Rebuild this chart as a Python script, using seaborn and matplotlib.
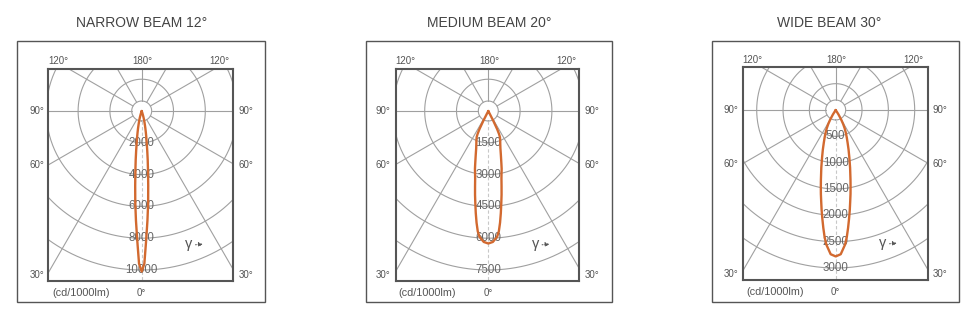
import numpy as np
import matplotlib
matplotlib.use("Agg")
import matplotlib.pyplot as plt
from matplotlib.patches import Rectangle
import seaborn as sns

# ---------------- data ----------------
titles = ["NARROW BEAM 12°", "MEDIUM BEAM 20°", "WIDE BEAM 30°"]

ring_steps = [2000, 1500, 500]
ring_counts = [5, 5, 6]

narrow_angles = [0, 1, 2, 3, 4, 5, 6, 7, 8, 9, 10, 11, 12, 13, 14, 15, 16, 17, 18, 19]
narrow_cd = [10100, 9600, 8100, 6900, 5800, 4700, 3800, 3100, 2500, 2000,
             1650, 1350, 1100, 880, 700, 550, 400, 250, 120, 0]

medium_angles = [0, 2, 4, 5, 6, 7, 8, 9, 10, 11, 12, 13, 14, 16, 18, 20, 22, 24, 25, 26, 27, 28]
medium_cd = [6250, 6180, 5950, 5700, 5300, 4850, 4400, 4000, 3600, 3250, 3000,
             2800, 2550, 2150, 1850, 1650, 1500, 1350, 1200, 950, 500, 0]

wide_angles = [0, 2, 4, 5, 6, 7, 8, 9, 10, 11, 12, 14, 16, 18, 20, 22, 24, 26, 28, 30, 32, 34]
wide_cd = [2780, 2740, 2560, 2420, 2250, 2080, 1920, 1760, 1620, 1480, 1350,
           1130, 940, 790, 660, 560, 470, 390, 300, 200, 100, 0]

profiles = [(narrow_angles, narrow_cd), (medium_angles, medium_cd), (wide_angles, wide_cd)]

ray_angles = list(range(0, 360, 30))
unit_label = "(cd/1000lm)"

# ---------------- layout (pixels) ----------------
W, H = 976, 320
# inner box: left, top, width, height, centre x, centre y, outer-ring radius px
inner = [(48, 69, 185, 212, 141.7, 111, 159),
         (395.7, 69, 183.3, 212, 488.3, 111, 159),
         (743.3, 66.7, 184.4, 213.3, 835.7, 110, 158)]
outer = [(17, 41, 248, 261), (365.7, 40.7, 246, 261.6), (712.3, 40.7, 247, 261.6)]
title_x = [141.7, 488.8, 829]

sns.set_theme(style="white")
plt.rcParams["font.family"] = ["Liberation Sans", "DejaVu Sans"]

fig = plt.figure(figsize=(W / 100, H / 100), dpi=100)

curve_color = "#d2692f"
grid_color = "#a0a0a0"
text_color = "#666666"
frame_color = "#555555"

for i in range(3):
    left, top, w, h, cx, cy, rpx = inner[i]
    step, n = ring_steps[i], ring_counts[i]
    rmax = step * n
    d = rmax / rpx  # data units per pixel

    ax = fig.add_axes([left / W, 1 - (top + h) / H, w / W, h / H])
    ax.set_xlim(-(cx - left) * d, (left + w - cx) * d)
    ax.set_ylim(-(top + h - cy) * d, (cy - top) * d)
    ax.set_xticks([])
    ax.set_yticks([])
    for s in ax.spines.values():
        s.set_color(frame_color)
        s.set_linewidth(1.5)

    t = np.linspace(0, 2 * np.pi, 361)
    # rings
    for k in range(1, n + 1):
        r = k * step
        ax.plot(r * np.sin(t), -r * np.cos(t), color=grid_color, lw=0.8, zorder=1)
    # hole circle
    rh = 10 * d
    ax.plot(rh * np.sin(t), -rh * np.cos(t), color=grid_color, lw=0.8, zorder=1)
    # rays
    for a in ray_angles:
        ar = np.radians(a)
        r0, r1 = rh, 3 * rmax
        ls = (0, (3, 2)) if a == 0 else "-"
        col = "#c8c8c8" if a == 0 else grid_color
        ax.plot([r0 * np.sin(ar), r1 * np.sin(ar)], [-r0 * np.cos(ar), -r1 * np.cos(ar)],
                color=col, lw=0.8, ls=ls, zorder=1)

    # ring labels
    for k in range(1, n + 1):
        ax.text(0, -k * step, f"{k * step}", ha="center", va="center",
                fontsize=8.3, color=text_color, zorder=3)

    # beam curve
    ang, cd = profiles[i]
    ang = np.array(ang, float)
    cd = np.array(cd, float)
    full_ang = np.concatenate([-ang[::-1], ang[1:]])
    full_cd = np.concatenate([cd[::-1], cd[1:]])
    rad = np.radians(full_ang)
    sns.lineplot(x=full_cd * np.sin(rad), y=-full_cd * np.cos(rad), sort=False,
                 estimator=None, color=curve_color, lw=1.7, ax=ax, zorder=4)

    # outside labels
    lab_kw = dict(ha="center", va="center", fontsize=7, color=frame_color, clip_on=False)
    ax.text(-83 * d, 50 * d, "120°", **lab_kw)
    ax.text(78 * d, 50 * d, "120°", **lab_kw)
    ax.text(1 * d, 50 * d, "180°", **lab_kw)
    for lbl, yy in [("90°", 0), ("60°", -54), ("30°", -164)]:
        ax.text(-105 * d, yy * d, lbl, **lab_kw)
        ax.text(104 * d, yy * d, lbl, **lab_kw)
    ax.text(0, -182 * d, "0°", **lab_kw)
    ax.text(-61 * d, -182 * d, unit_label, ha="center", va="center", fontsize=7.8,
            color=frame_color, clip_on=False)

    # gamma arrow
    ax.text(47 * d, -133 * d, "γ", ha="center", va="center", fontsize=10.5,
            color=frame_color)
    ax.annotate("", xy=(64 * d, -133 * d), xytext=(51 * d, -134 * d),
                arrowprops=dict(arrowstyle="-|>", color=frame_color, lw=0.7,
                                ls=":", mutation_scale=6))

    # outer frame & title
    ox, oy, ow, oh = outer[i]
    fig.add_artist(Rectangle((ox / W, 1 - (oy + oh) / H), ow / W, oh / H,
                             transform=fig.transFigure, fill=False,
                             edgecolor=frame_color, lw=1.0))
    fig.text(title_x[i] / W, 1 - 23 / H, titles[i], ha="center", va="center",
             fontsize=10, color="#444444")

fig.savefig("out.png", dpi=100, facecolor="white")
